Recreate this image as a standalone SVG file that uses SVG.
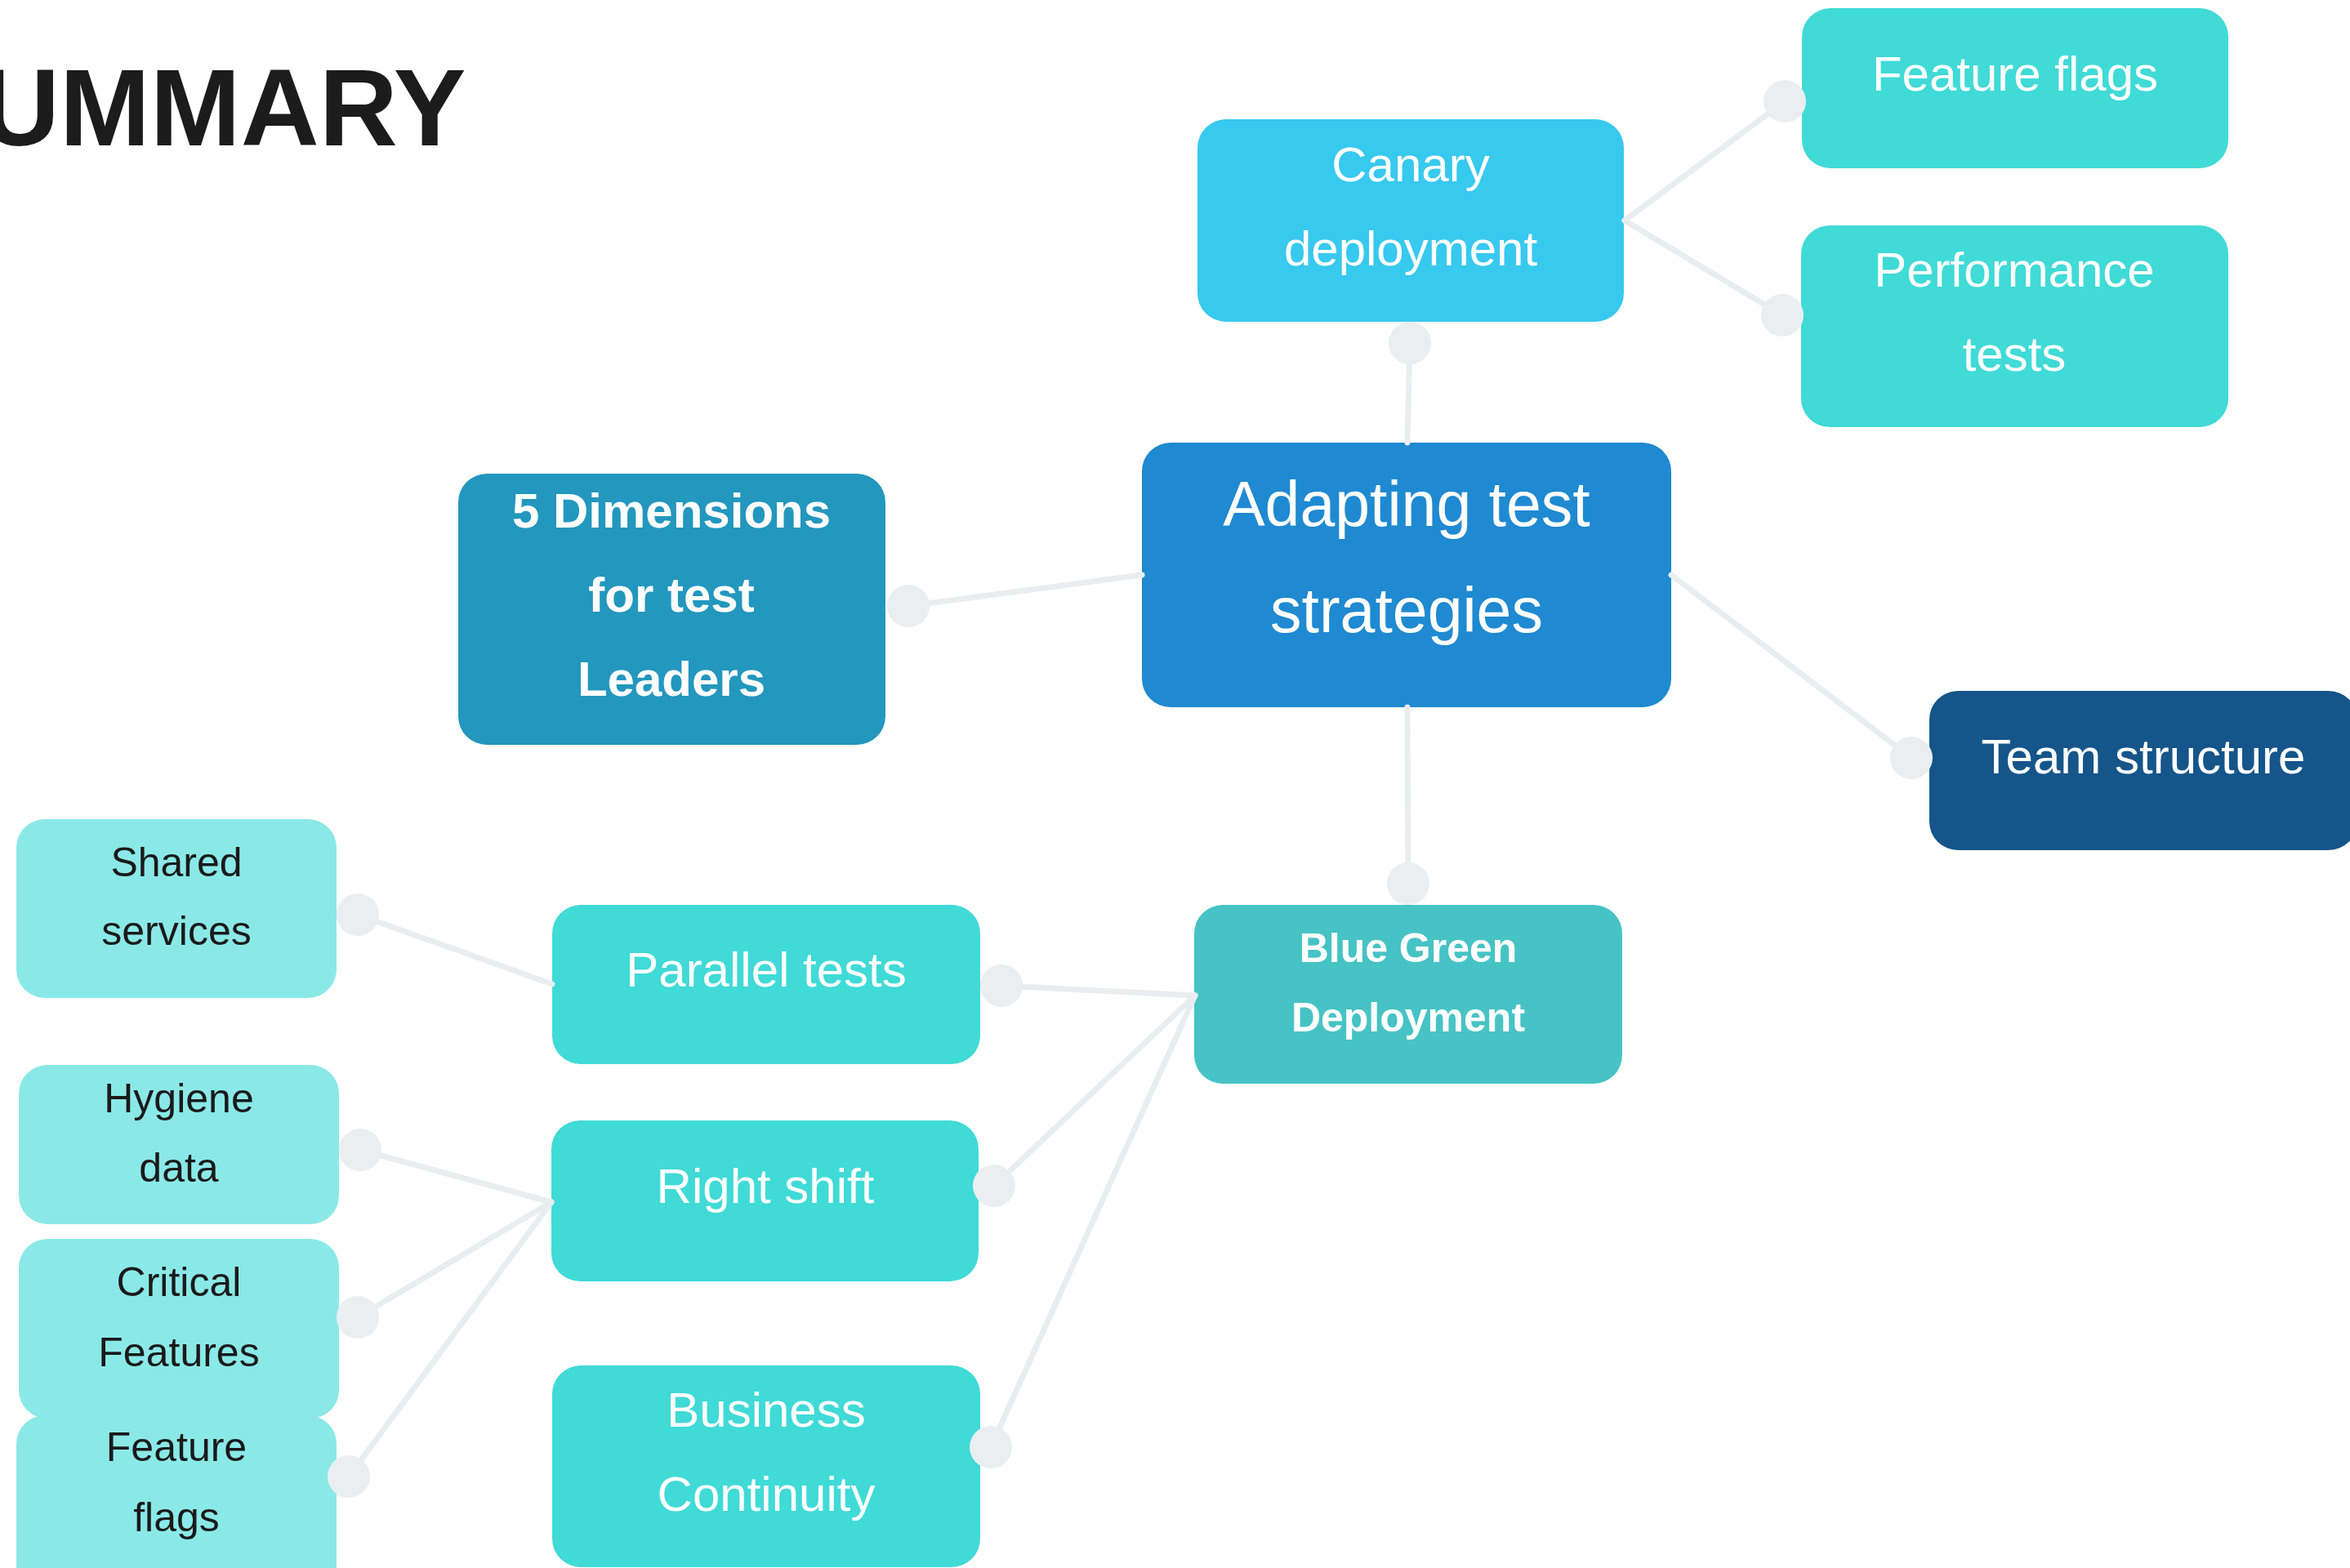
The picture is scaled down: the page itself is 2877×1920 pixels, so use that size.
<svg xmlns="http://www.w3.org/2000/svg" width="2877" height="1920" viewBox="0 0 2877 1920">
<style>
text{font-family:"Liberation Sans",Arial,sans-serif;text-anchor:middle}
.w{fill:#ffffff;font-size:60px}
.wb{fill:#ffffff;font-size:60px;font-weight:bold}
.wb2{fill:#ffffff;font-size:50px;font-weight:bold}
.big{fill:#ffffff;font-size:77px}
.dk{fill:#1a1a1a;font-size:50px}
.title{fill:#1c1c1c;font-size:133px;font-weight:bold;text-anchor:start}
.tq{fill:#40dad7}
.lt{fill:#8ae9e7}
.cn line{stroke:#e9edf0;stroke-width:7;stroke-linecap:round}
.cn circle{fill:#eaeef1}
</style>
<rect width="2877" height="1920" fill="#ffffff"/>
<text class="title" x="-23" y="178">UMMARY</text>

<g id="node-canary"><rect x="1466" y="146" width="522" height="248" rx="35" fill="#38c9ef"/>
<text class="w" x="1727" y="222">Canary</text><text class="w" x="1727" y="325">deployment</text></g>
<g id="node-featureflags-top"><rect class="tq" x="2206" y="10" width="522" height="196" rx="35"/>
<text class="w" x="2467" y="111">Feature flags</text></g>
<g id="node-performance"><rect class="tq" x="2205" y="276" width="523" height="247" rx="35"/>
<text class="w" x="2466" y="351">Performance</text><text class="w" x="2466" y="454">tests</text></g>
<g id="node-adapting"><rect x="1398" y="542" width="648" height="324" rx="35" fill="#1f8ad1"/>
<text class="big" x="1722" y="644">Adapting test</text><text class="big" x="1722" y="774">strategies</text></g>
<g id="node-5dimensions"><rect x="561" y="580" width="523" height="332" rx="35" fill="#2397be"/>
<text class="wb" x="822" y="646">5 Dimensions</text><text class="wb" x="822" y="749">for test</text><text class="wb" x="822" y="852">Leaders</text></g>
<g id="node-team"><rect x="2362" y="846" width="524" height="195" rx="35" fill="#15558a"/>
<text class="w" x="2624" y="947">Team structure</text></g>
<g id="node-bluegreen"><rect x="1462" y="1108" width="524" height="219" rx="35" fill="#47c3c5"/>
<text class="wb2" x="1724" y="1178">Blue Green</text><text class="wb2" x="1724" y="1263">Deployment</text></g>
<g id="node-parallel"><rect class="tq" x="676" y="1108" width="524" height="195" rx="35"/>
<text class="w" x="938" y="1208">Parallel tests</text></g>
<g id="node-rightshift"><rect class="tq" x="675" y="1372" width="523" height="197" rx="35"/>
<text class="w" x="937" y="1473">Right shift</text></g>
<g id="node-business"><rect class="tq" x="676" y="1672" width="524" height="247" rx="35"/>
<text class="w" x="938" y="1747">Business</text><text class="w" x="938" y="1850">Continuity</text></g>
<g id="node-shared"><rect class="lt" x="20" y="1003" width="392" height="219" rx="35"/>
<text class="dk" x="216" y="1073">Shared</text><text class="dk" x="216" y="1157">services</text></g>
<g id="node-hygiene"><rect class="lt" x="23" y="1304" width="392" height="195" rx="35"/>
<text class="dk" x="219" y="1362">Hygiene</text><text class="dk" x="219" y="1447">data</text></g>
<g id="node-critical"><rect class="lt" x="23" y="1517" width="392" height="220" rx="35"/>
<text class="dk" x="219" y="1587">Critical</text><text class="dk" x="219" y="1673">Features</text></g>
<g id="node-featureflags-bottom"><rect class="lt" x="20" y="1733" width="392" height="220" rx="35"/>
<text class="dk" x="216" y="1789">Feature</text><text class="dk" x="216" y="1875">flags</text></g>

<g id="connectors" class="cn">
<line x1="1723" y1="542" x2="1726" y2="420"/>
<line x1="1989" y1="270" x2="2185" y2="124"/>
<line x1="1989" y1="270" x2="2182" y2="386"/>
<line x1="1398" y1="704" x2="1112" y2="742"/>
<line x1="2046" y1="704" x2="2340" y2="928"/>
<line x1="1723" y1="866" x2="1724" y2="1082"/>
<line x1="1463" y1="1219" x2="1226" y2="1207"/>
<line x1="1463" y1="1219" x2="1217" y2="1452"/>
<line x1="1463" y1="1219" x2="1213" y2="1772"/>
<line x1="676" y1="1205" x2="438" y2="1120"/>
<line x1="675" y1="1472" x2="441" y2="1408"/>
<line x1="675" y1="1472" x2="438" y2="1613"/>
<line x1="675" y1="1472" x2="427" y2="1808"/>
<circle cx="1726" cy="420" r="26"/>
<circle cx="2185" cy="124" r="26"/>
<circle cx="2182" cy="386" r="26"/>
<circle cx="1112" cy="742" r="26"/>
<circle cx="2340" cy="928" r="26"/>
<circle cx="1724" cy="1082" r="26"/>
<circle cx="1226" cy="1207" r="26"/>
<circle cx="1217" cy="1452" r="26"/>
<circle cx="1213" cy="1772" r="26"/>
<circle cx="438" cy="1120" r="26"/>
<circle cx="441" cy="1408" r="26"/>
<circle cx="438" cy="1613" r="26"/>
<circle cx="427" cy="1808" r="26"/>
</g>
</svg>
